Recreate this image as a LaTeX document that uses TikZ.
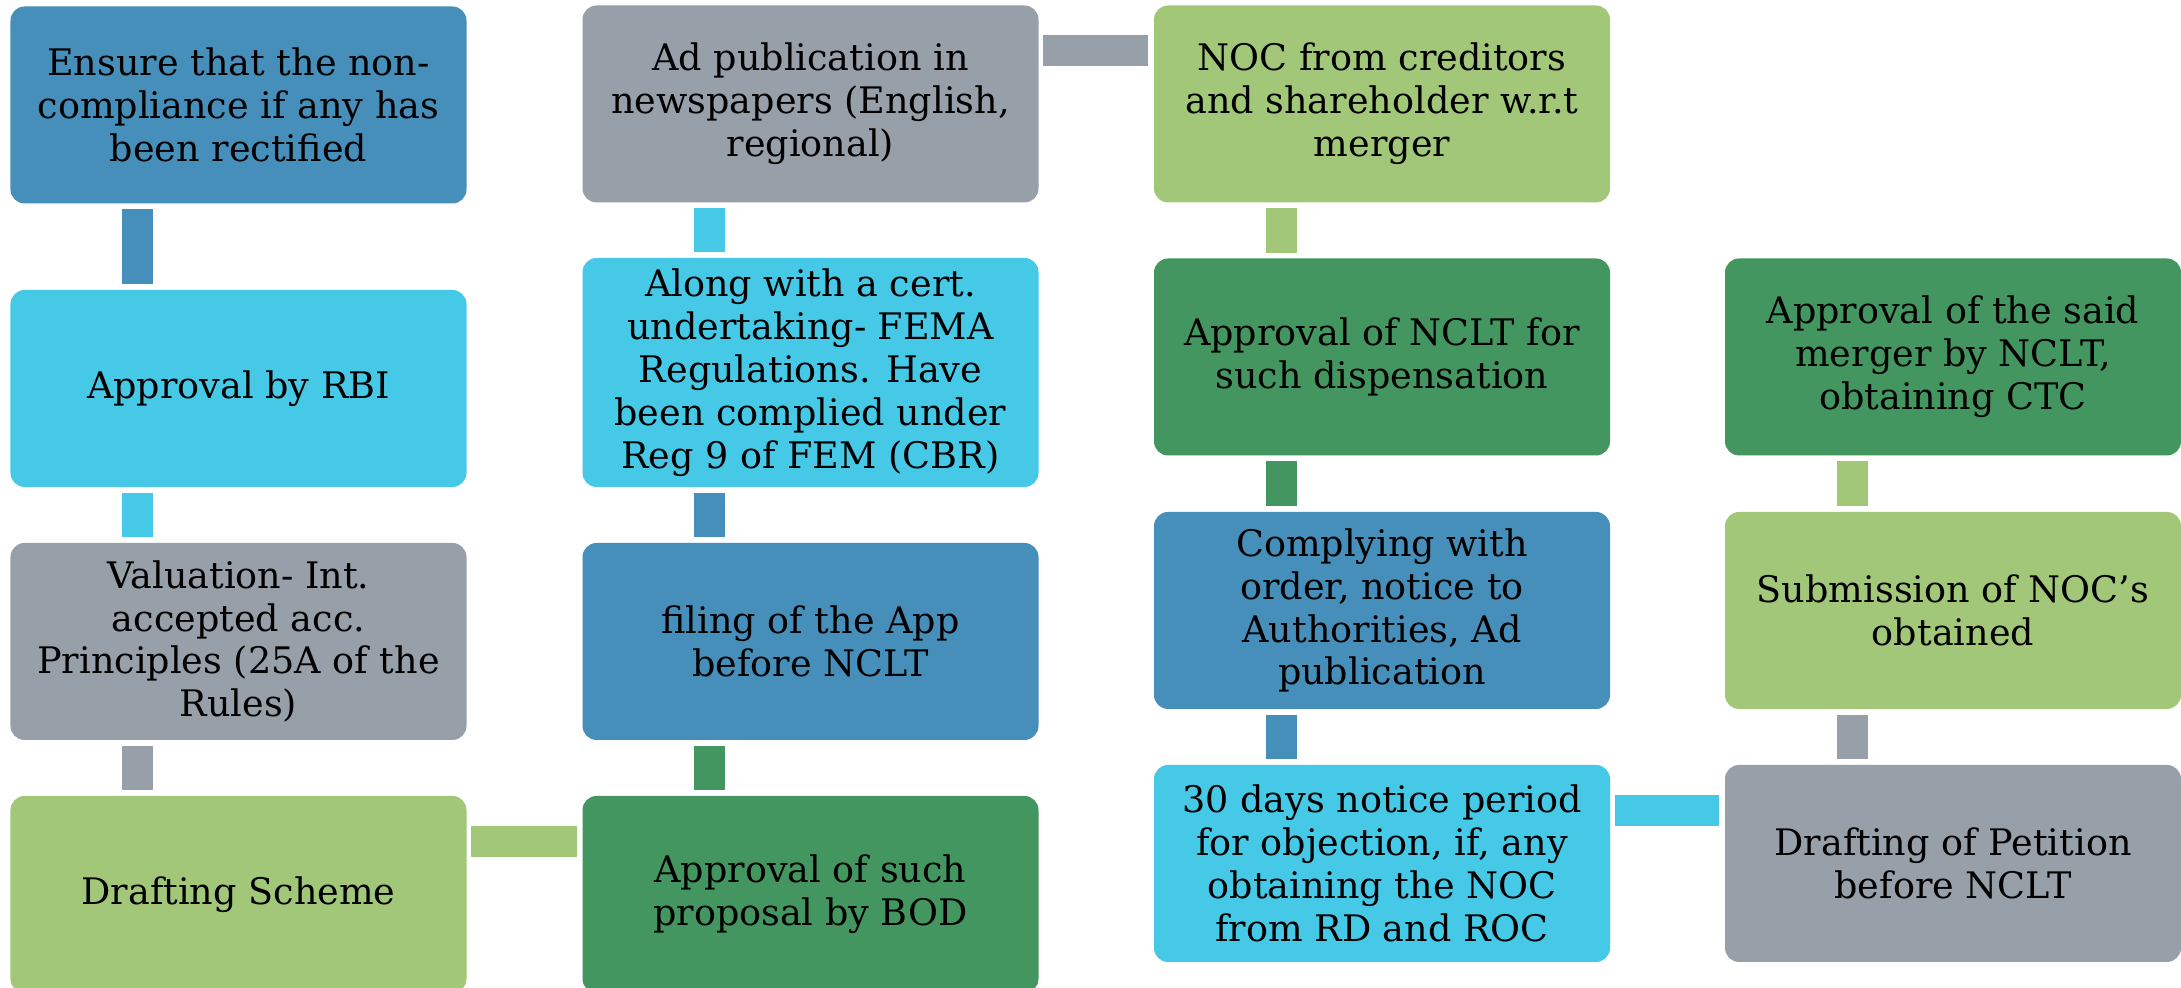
\documentclass[tikz,border=0pt]{standalone}
\usepackage{fontspec}
\setmainfont{DejaVu Serif}
\usepackage{tikz}
\usetikzlibrary{calc,positioning}
\definecolor{azul}{HTML}{468FBA}
\definecolor{ciano}{HTML}{45C9E7}
\definecolor{cinza}{HTML}{979FA9}
\definecolor{lima}{HTML}{A3C779}
\definecolor{verde}{HTML}{43965F}

\begin{document}
\begin{tikzpicture}[x=1cm,y=1cm, font=\fontsize{10.4}{12.2}\selectfont,
    etapa/.style={fill=#1, rounded corners=4pt, text=black, align=center, inner sep=2pt,
                  minimum width=4.56cm, minimum height=1.97cm},
    barra/.style={draw=#1, line width=3.1mm}]
  \useasboundingbox[fill=white] (0,0) rectangle (21.81,9.88);
  % column 1 (top to bottom)
  \node[etapa=azul] (ensure) at (2.385,8.83) {Ensure that the non-\\compliance if any has\\been rectified};
  \node[etapa=ciano] (rbi) at (2.385,5.995) {Approval by RBI};
  \node[etapa=cinza] (valuation) at (2.385,3.465) {Valuation- Int.\\accepted acc.\\Principles (25A of the\\Rules)};
  \node[etapa=lima] (scheme) at (2.385,0.935) {Drafting Scheme};
  % column 2 (bottom to top)
  \node[etapa=verde] (bod) at (8.105,0.935) {Approval of such\\proposal by BOD};
  \node[etapa=azul] (filing) at (8.105,3.465) {filing of the App\\before NCLT};
  \node[etapa=ciano, minimum height=2.29cm] (fema) at (8.105,6.155) {Along with a cert.\\undertaking- FEMA\\Regulations. Have\\been complied under\\Reg 9 of FEM (CBR)};
  \node[etapa=cinza] (ad) at (8.105,8.84) {Ad publication in\\newspapers (English,\\regional)};
  % column 3 (top to bottom)
  \node[etapa=lima] (noc) at (13.82,8.84) {NOC from creditors\\and shareholder w.r.t\\merger};
  \node[etapa=verde] (disp) at (13.82,6.31) {Approval of NCLT for\\such dispensation};
  \node[etapa=azul] (comply) at (13.82,3.775) {Complying with\\order, notice to\\Authorities, Ad\\publication};
  \node[etapa=ciano] (notice) at (13.82,1.245) {30 days notice period\\for objection, if, any\\obtaining the NOC\\from RD and ROC};
  % column 4 (bottom to top)
  \node[etapa=cinza] (petition) at (19.53,1.245) {Drafting of Petition\\before NCLT};
  \node[etapa=lima] (submit) at (19.53,3.775) {Submission of NOC’s\\obtained};
  \node[etapa=verde] (merger) at (19.53,6.31) {Approval of the said\\merger by NCLT,\\obtaining CTC};
  % vertical bars
  \foreach \a/\b/\c in {ensure/rbi/azul, rbi/valuation/ciano, valuation/scheme/cinza,
                        ad/fema/ciano, fema/filing/azul, filing/bod/verde,
                        noc/disp/lima, disp/comply/verde, comply/notice/azul,
                        merger/submit/lima, submit/petition/cinza}{
    \draw[barra=\c] ([xshift=1.28cm,yshift=-0.5mm]\a.south west) -- ([xshift=1.28cm,yshift=0.5mm]\a.south west |- \b.north);
  }
  % horizontal bars
  \draw[barra=lima] ([xshift=0.4mm,yshift=-4.6mm]scheme.north east) -- ([xshift=-0.5mm,yshift=-4.6mm]scheme.north east -| bod.west);
  \draw[barra=cinza] ([xshift=0.4mm,yshift=-4.6mm]ad.north east) -- ([xshift=-0.5mm,yshift=-4.6mm]ad.north east -| noc.west);
  \draw[barra=ciano] ([xshift=0.4mm,yshift=-4.6mm]notice.north east) -- ([xshift=-0.5mm,yshift=-4.6mm]notice.north east -| petition.west);
\end{tikzpicture}
\end{document}
